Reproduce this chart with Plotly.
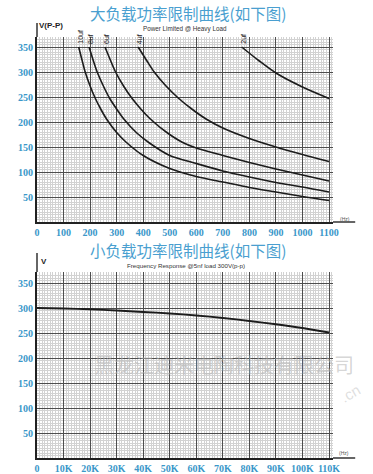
import plotly.graph_objects as go

# ---------------- data ----------------
# Top chart: Power Limited @ Heavy Load  (x: Hz, y: V p-p)
cap_labels = ["10uf", "8uf", "6uf", "4uf", "2uf"]
freq_10uf = [157, 170, 181, 200, 219, 240, 262, 300, 337, 400, 500, 600, 700, 800, 900, 1000, 1100]
volt_10uf = [350, 323, 301, 272, 248, 226, 206, 179, 159, 133, 107, 91, 80, 69, 60, 51, 43]
freq_8uf = [196, 212, 226, 250, 273, 300, 327, 374, 421, 500, 600, 700, 800, 900, 1000, 1100]
volt_8uf = [350, 323, 301, 272, 248, 226, 206, 179, 159, 133, 117, 102, 90, 79, 70, 60]
freq_6uf = [256, 277, 295, 326, 357, 391, 427, 489, 549, 600, 700, 800, 900, 1000, 1100]
volt_6uf = [350, 323, 301, 272, 248, 226, 206, 179, 159, 148, 133, 119, 106, 94, 82]
freq_4uf = [381, 413, 440, 486, 532, 583, 637, 700, 800, 900, 1000, 1100]
volt_4uf = [350, 323, 301, 272, 248, 226, 206, 188, 167, 150, 135, 121]
freq_2uf = [771, 835, 900, 1000, 1100]
volt_2uf = [350, 323, 298, 270, 247]

top_x_ticks = [0, 100, 200, 300, 400, 500, 600, 700, 800, 900, 1000, 1100]
top_x_text = ["0", "100", "200", "300", "400", "500", "600", "700", "800", "900", "1000", "1100"]
y_ticks = [50, 100, 150, 200, 250, 300, 350]

# Bottom chart: Frequency Response @5nf load 300V(p-p)  (x: kHz)
freq_resp_k = [0, 10, 20, 30, 40, 50, 60, 70, 80, 90, 100, 110]
volt_resp = [300, 299, 297.5, 295, 292, 289, 285, 280, 274, 267.5, 260, 251]
bot_x_ticks = [0, 10, 20, 30, 40, 50, 60, 70, 80, 90, 100, 110]
bot_x_text = ["0", "10K", "20K", "30K", "40K", "50K", "60K", "70K", "80K", "90K", "100K", "110K"]

# ---------------- figure ----------------
W, H = 373, 474
L, R, T, B = 37, 40, 37, 16
plot_h = H - T - B
top_dom = [(458 - 222) / plot_h, 1.0]
bot_dom = [0.0, (458 - 272) / plot_h]

curve_col = "#1c1c1c"
tick_col = "#3a97c9"
major_col = "#4d4d4d"
minor_col = "#d2d2d2"

fig = go.Figure()
top_series = [(freq_10uf, volt_10uf), (freq_8uf, volt_8uf), (freq_6uf, volt_6uf),
              (freq_4uf, volt_4uf), (freq_2uf, volt_2uf)]
for xs, ys in top_series:
    fig.add_trace(go.Scatter(x=xs, y=ys, mode="lines", xaxis="x", yaxis="y",
                             line=dict(color=curve_col, width=1.6, shape="spline", smoothing=0.8),
                             showlegend=False, hoverinfo="skip"))
fig.add_trace(go.Scatter(x=freq_resp_k, y=volt_resp, mode="lines", xaxis="x2", yaxis="y2",
                         line=dict(color=curve_col, width=1.8, shape="spline", smoothing=0.8),
                         showlegend=False, hoverinfo="skip"))

tickfont = dict(family="Liberation Serif, DejaVu Serif, serif", size=10, color=tick_col, weight="bold")

def xax(rng, tv, tt, mdt, anchor):
    return dict(domain=[0, 1], range=rng, tickmode="array", tickvals=tv, ticktext=tt,
                showgrid=True, gridcolor=major_col, gridwidth=1.3, zeroline=False,
                showline=True, linecolor="#222222", linewidth=2, ticks="",
                tickfont=tickfont, anchor=anchor, fixedrange=True, automargin=False,
                minor=dict(dtick=mdt, tick0=0, showgrid=True, gridcolor=minor_col, gridwidth=0.6))

def yax(dom, rng, anchor):
    return dict(domain=dom, range=rng, tickmode="array", tickvals=y_ticks,
                showgrid=True, gridcolor=major_col, gridwidth=1.3, zeroline=False,
                showline=True, linecolor="#222222", linewidth=2, ticks="",
                tickfont=tickfont, anchor=anchor, fixedrange=True, automargin=False,
                minor=dict(dtick=5, tick0=0, showgrid=True, gridcolor=minor_col, gridwidth=0.6))

def px2paper(px, py):
    # px, py are positions in the reference picture
    return (px - L) / (W - L - R), (458 - py) / plot_h

annotations = []
def ann(text, px, py, size, color, family="Liberation Sans, Arial, sans-serif", xanchor="center",
        angle=0, weight="normal"):
    xp, yp = px2paper(px, py)
    annotations.append(dict(text=text, x=xp, y=yp, xref="paper", yref="paper", showarrow=False,
                            xanchor=xanchor, yanchor="middle", textangle=angle,
                            font=dict(size=size, color=color, family=family, weight=weight)))

cjk = "Noto Sans CJK SC, sans-serif"
ann("大负载功率限制曲线(如下图)", 188, 13, 15.5, "#4a9fd0", family=cjk)
ann("Power Limited @ Heavy Load", 185, 28.5, 6.3, "#333333")
ann("V(P-P)", 37, 26, 8, "#222222", xanchor="left", weight="bold")
ann("(Hz)", 345, 219, 5, "#555555")
ann("小负载功率限制曲线(如下图)", 188, 249.5, 15.5, "#4a9fd0", family=cjk)
ann("Frequency Response @5nf load 300V(p-p)", 186, 265, 6.2, "#333333")
ann("V", 39, 261, 8, "#222222", xanchor="left", weight="bold")
ann("(Hz)", 344, 453, 5, "#555555")
ann("黑龙江迪米电陶科技有限公司", 224, 364, 20, "rgba(180,180,180,0.55)", family=cjk)
ann(".cn", 350, 393, 15, "rgba(185,185,185,0.45)", angle=-30)

for lab, (xs, ys) in zip(cap_labels, top_series):
    annotations.append(dict(text=lab, x=xs[0], y=ys[0], xref="x", yref="y", showarrow=False,
                            xanchor="center", yanchor="bottom", textangle=-90, yshift=1, xshift=1,
                            font=dict(size=7, color="#222222", family="Liberation Sans, Arial, sans-serif")))

shapes = [
    dict(type="line", xref="x domain", yref="y domain", x0=1, x1=1.075, y0=0, y1=0,
         line=dict(color="#333333", width=1.5)),
    dict(type="line", xref="x domain", yref="y domain", x0=0, x1=0, y0=1, y1=1.076,
         line=dict(color="#333333", width=1.5)),
    dict(type="line", xref="x2 domain", yref="y2 domain", x0=1, x1=1.075, y0=0, y1=0,
         line=dict(color="#333333", width=1.5)),
    dict(type="line", xref="x2 domain", yref="y2 domain", x0=0, x1=0, y0=1, y1=1.102,
         line=dict(color="#333333", width=1.5)),
]

fig.update_layout(
    width=W, height=H, margin=dict(l=L, r=R, t=T, b=B),
    paper_bgcolor="white", plot_bgcolor="white",
    xaxis=xax([0, 1115], top_x_ticks, top_x_text, 10, "y"),
    yaxis=yax(top_dom, [0, 370], "x"),
    xaxis2=xax([0, 111.5], bot_x_ticks, bot_x_text, 1, "y2"),
    yaxis2=yax(bot_dom, [0, 372], "x2"),
    annotations=annotations, shapes=shapes, showlegend=False,
)

# remove the default 8px page margin so the figure sits at the window's corner
fig.write_html("out.html", config={"displayModeBar": False},
               post_script="document.body.style.margin='0';document.body.style.overflow='hidden';")
